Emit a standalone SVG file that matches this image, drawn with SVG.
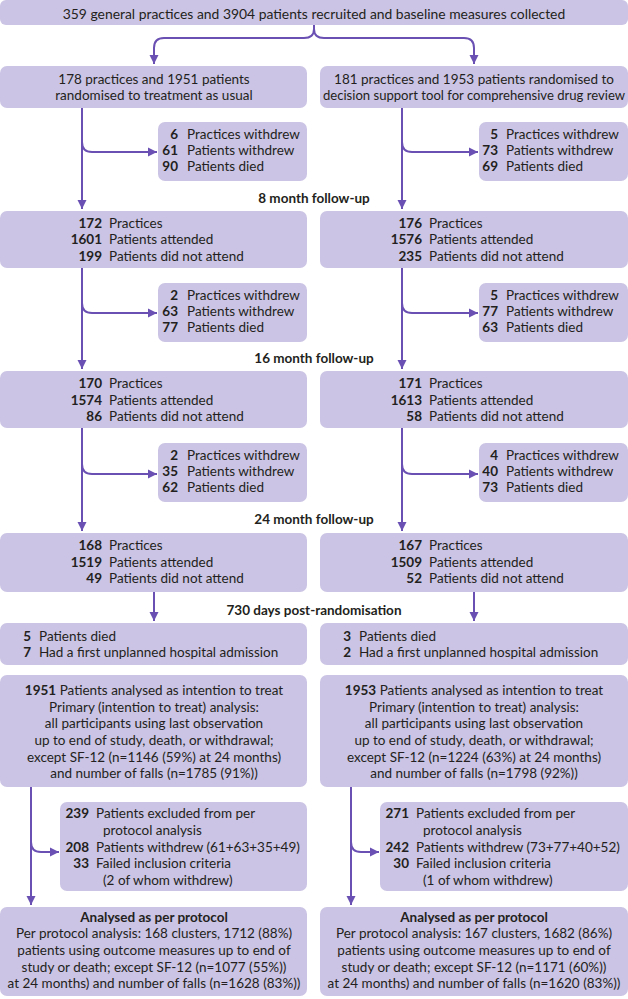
<svg xmlns="http://www.w3.org/2000/svg" width="628" height="999" viewBox="0 0 628 999">
<style>
.b{fill:#cbc4e4}
text{font-family:Lato,"Open Sans","Liberation Sans",sans-serif;font-size:13.5px;fill:#231f20;dominant-baseline:central}
.n{font-weight:700;text-anchor:end}
.c{text-anchor:middle}
.h{font-weight:700;text-anchor:middle}
.ln{stroke:#6a50b2;stroke-width:2;fill:none}
</style>
<defs>
<marker id="ah" markerUnits="userSpaceOnUse" markerWidth="10" markerHeight="10" refX="9" refY="5" orient="auto">
<path d="M0,0.5 L9,5 L0,9.5 Z" fill="#6a50b2"/>
</marker>
</defs>

<g id="connectors">
<path class="ln" d="M314,25 V29 Q314,38 304,38 H164 Q154,38 154,48 V64" marker-end="url(#ah)"/>
<path class="ln" d="M314,29 Q314,38 324,38 H464 Q474,38 474,48 V64" marker-end="url(#ah)"/>
<path class="ln" d="M82,108 V209" marker-end="url(#ah)"/>
<path class="ln" d="M82,142 Q82,152 92,152 H157" marker-end="url(#ah)"/>
<path class="ln" d="M402,108 V209" marker-end="url(#ah)"/>
<path class="ln" d="M402,142 Q402,152 412,152 H478" marker-end="url(#ah)"/>
<path class="ln" d="M82,268 V369" marker-end="url(#ah)"/>
<path class="ln" d="M82,303 Q82,313 92,313 H157" marker-end="url(#ah)"/>
<path class="ln" d="M402,268 V369" marker-end="url(#ah)"/>
<path class="ln" d="M402,303 Q402,313 412,313 H478" marker-end="url(#ah)"/>
<path class="ln" d="M82,428 V531" marker-end="url(#ah)"/>
<path class="ln" d="M82,464 Q82,474 92,474 H157" marker-end="url(#ah)"/>
<path class="ln" d="M402,428 V531" marker-end="url(#ah)"/>
<path class="ln" d="M402,464 Q402,474 412,474 H478" marker-end="url(#ah)"/>
<path class="ln" d="M154,592 V621" marker-end="url(#ah)"/>
<path class="ln" d="M474,592 V621" marker-end="url(#ah)"/>
<path class="ln" d="M31,787 V905" marker-end="url(#ah)"/>
<path class="ln" d="M31,842 Q31,852 41,852 H59" marker-end="url(#ah)"/>
<path class="ln" d="M351,787 V905" marker-end="url(#ah)"/>
<path class="ln" d="M351,842 Q351,852 361,852 H379" marker-end="url(#ah)"/>
</g>

<g id="recruited">
<rect class="b" x="0" y="0" width="628" height="25" rx="6"/>
<text class="c" x="314" y="13" style="font-size:13.9px">359 general practices and 3904 patients recruited and baseline measures collected</text>
</g>

<g id="usual">
<rect class="b" x="0" y="66" width="307" height="42" rx="7"/>
<text class="c" x="154" y="79">178 practices and 1951 patients</text>
<text class="c" x="154" y="95">randomised to treatment as usual</text>
</g>
<g id="tool">
<rect class="b" x="320" y="66" width="308" height="42" rx="7"/>
<text class="c" x="474" y="79">181 practices and 1953 patients randomised to</text>
<text class="c" x="474" y="95" style="font-size:13.1px">decision support tool for comprehensive drug review</text>
</g>

<g id="withdraw1L">
<rect class="b" x="158" y="122" width="149" height="59" rx="7"/>
<text class="n" x="178" y="134">6</text><text x="187" y="134">Practices withdrew</text>
<text class="n" x="178" y="150">61</text><text x="187" y="150">Patients withdrew</text>
<text class="n" x="178" y="166">90</text><text x="187" y="166">Patients died</text>
</g>
<g id="withdraw1R">
<rect class="b" x="479" y="122" width="149" height="59" rx="7"/>
<text class="n" x="498" y="134">5</text><text x="506" y="134">Practices withdrew</text>
<text class="n" x="498" y="150">73</text><text x="506" y="150">Patients withdrew</text>
<text class="n" x="498" y="166">69</text><text x="506" y="166">Patients died</text>
</g>

<g id="label8"><text class="h" x="314" y="198">8 month follow-up</text></g>

<g id="fu8L">
<rect class="b" x="0" y="211" width="307" height="57" rx="7"/>
<text class="n" x="102" y="223">172</text><text x="109" y="223">Practices</text>
<text class="n" x="102" y="239">1601</text><text x="109" y="239">Patients attended</text>
<text class="n" x="102" y="256">199</text><text x="109" y="256">Patients did not attend</text>
</g>
<g id="fu8R">
<rect class="b" x="320" y="211" width="308" height="57" rx="7"/>
<text class="n" x="422" y="223">176</text><text x="429" y="223">Practices</text>
<text class="n" x="422" y="239">1576</text><text x="429" y="239">Patients attended</text>
<text class="n" x="422" y="256">235</text><text x="429" y="256">Patients did not attend</text>
</g>

<g id="withdraw2L">
<rect class="b" x="158" y="283" width="149" height="59" rx="7"/>
<text class="n" x="178" y="295">2</text><text x="187" y="295">Practices withdrew</text>
<text class="n" x="178" y="311">63</text><text x="187" y="311">Patients withdrew</text>
<text class="n" x="178" y="327">77</text><text x="187" y="327">Patients died</text>
</g>
<g id="withdraw2R">
<rect class="b" x="479" y="283" width="149" height="59" rx="7"/>
<text class="n" x="498" y="295">5</text><text x="506" y="295">Practices withdrew</text>
<text class="n" x="498" y="311">77</text><text x="506" y="311">Patients withdrew</text>
<text class="n" x="498" y="327">63</text><text x="506" y="327">Patients died</text>
</g>

<g id="label16"><text class="h" x="314" y="358">16 month follow-up</text></g>

<g id="fu16L">
<rect class="b" x="0" y="371" width="307" height="57" rx="7"/>
<text class="n" x="102" y="383">170</text><text x="109" y="383">Practices</text>
<text class="n" x="102" y="400">1574</text><text x="109" y="400">Patients attended</text>
<text class="n" x="102" y="416">86</text><text x="109" y="416">Patients did not attend</text>
</g>
<g id="fu16R">
<rect class="b" x="320" y="371" width="308" height="57" rx="7"/>
<text class="n" x="422" y="383">171</text><text x="429" y="383">Practices</text>
<text class="n" x="422" y="400">1613</text><text x="429" y="400">Patients attended</text>
<text class="n" x="422" y="416">58</text><text x="429" y="416">Patients did not attend</text>
</g>

<g id="withdraw3L">
<rect class="b" x="158" y="443" width="149" height="59" rx="7"/>
<text class="n" x="178" y="455">2</text><text x="187" y="455">Practices withdrew</text>
<text class="n" x="178" y="471">35</text><text x="187" y="471">Patients withdrew</text>
<text class="n" x="178" y="487">62</text><text x="187" y="487">Patients died</text>
</g>
<g id="withdraw3R">
<rect class="b" x="479" y="443" width="149" height="59" rx="7"/>
<text class="n" x="498" y="455">4</text><text x="506" y="455">Practices withdrew</text>
<text class="n" x="498" y="471">40</text><text x="506" y="471">Patients withdrew</text>
<text class="n" x="498" y="487">73</text><text x="506" y="487">Patients died</text>
</g>

<g id="label24"><text class="h" x="314" y="519">24 month follow-up</text></g>

<g id="fu24L">
<rect class="b" x="0" y="533" width="307" height="59" rx="7"/>
<text class="n" x="102" y="545">168</text><text x="109" y="545">Practices</text>
<text class="n" x="102" y="562">1519</text><text x="109" y="562">Patients attended</text>
<text class="n" x="102" y="578">49</text><text x="109" y="578">Patients did not attend</text>
</g>
<g id="fu24R">
<rect class="b" x="320" y="533" width="308" height="59" rx="7"/>
<text class="n" x="422" y="545">167</text><text x="429" y="545">Practices</text>
<text class="n" x="422" y="562">1509</text><text x="429" y="562">Patients attended</text>
<text class="n" x="422" y="578">52</text><text x="429" y="578">Patients did not attend</text>
</g>

<g id="label730"><text class="h" x="314" y="610">730 days post-randomisation</text></g>

<g id="d730L">
<rect class="b" x="0" y="623" width="307" height="42" rx="7"/>
<text class="n" x="31" y="636">5</text><text x="39" y="636">Patients died</text>
<text class="n" x="31" y="652">7</text><text x="39" y="652">Had a first unplanned hospital admission</text>
</g>
<g id="d730R">
<rect class="b" x="320" y="623" width="308" height="42" rx="7"/>
<text class="n" x="351" y="636">3</text><text x="359" y="636">Patients died</text>
<text class="n" x="351" y="652">2</text><text x="359" y="652">Had a first unplanned hospital admission</text>
</g>

<g id="ittL">
<rect class="b" x="0" y="675" width="307" height="112" rx="7"/>
<text class="c" x="154" y="690"><tspan font-weight="700">1951</tspan>  Patients analysed as intention to treat</text>
<text class="c" x="154" y="707">Primary (intention to treat) analysis:</text>
<text class="c" x="154" y="723">all participants using last observation</text>
<text class="c" x="154" y="740">up to end of study, death, or withdrawal;</text>
<text class="c" x="154" y="757">except SF-12 (n=1146 (59%) at 24 months)</text>
<text class="c" x="154" y="773">and number of falls (n=1785 (91%))</text>
</g>
<g id="ittR">
<rect class="b" x="320" y="675" width="308" height="112" rx="7"/>
<text class="c" x="474" y="690"><tspan font-weight="700">1953</tspan>  Patients analysed as intention to treat</text>
<text class="c" x="474" y="707">Primary (intention to treat) analysis:</text>
<text class="c" x="474" y="723">all participants using last observation</text>
<text class="c" x="474" y="740">up to end of study, death, or withdrawal;</text>
<text class="c" x="474" y="757">except SF-12 (n=1224 (63%) at 24 months)</text>
<text class="c" x="474" y="773">and number of falls (n=1798 (92%))</text>
</g>

<g id="exclL">
<rect class="b" x="60" y="802" width="247" height="89" rx="7"/>
<text class="n" x="89" y="813">239</text><text x="96" y="813">Patients excluded from per</text>
<text x="103" y="830">protocol analysis</text>
<text class="n" x="89" y="847">208</text><text x="96" y="847">Patients withdrew (61+63+35+49)</text>
<text class="n" x="89" y="863">33</text><text x="96" y="863">Failed inclusion criteria</text>
<text x="103" y="880">(2 of whom withdrew)</text>
</g>
<g id="exclR">
<rect class="b" x="380" y="802" width="248" height="89" rx="7"/>
<text class="n" x="409" y="813">271</text><text x="416" y="813">Patients excluded from per</text>
<text x="423" y="830">protocol analysis</text>
<text class="n" x="409" y="847">242</text><text x="416" y="847">Patients withdrew (73+77+40+52)</text>
<text class="n" x="409" y="863">30</text><text x="416" y="863">Failed inclusion criteria</text>
<text x="423" y="880">(1 of whom withdrew)</text>
</g>

<g id="ppL">
<rect class="b" x="0" y="907" width="307" height="89" rx="7"/>
<text class="h" x="154" y="917">Analysed as per protocol</text>
<text class="c" x="154" y="933">Per protocol analysis: 168 clusters, 1712 (88%)</text>
<text class="c" x="154" y="950">patients using outcome measures up to end of</text>
<text class="c" x="154" y="967">study or death; except SF-12 (n=1077 (55%))</text>
<text class="c" x="154" y="983">at 24 months) and number of falls (n=1628 (83%))</text>
</g>
<g id="ppR">
<rect class="b" x="320" y="907" width="308" height="89" rx="7"/>
<text class="h" x="474" y="917">Analysed as per protocol</text>
<text class="c" x="474" y="933">Per protocol analysis: 167 clusters, 1682 (86%)</text>
<text class="c" x="474" y="950">patients using outcome measures up to end of</text>
<text class="c" x="474" y="967">study or death; except SF-12 (n=1171 (60%))</text>
<text class="c" x="474" y="983">at 24 months) and number of falls (n=1620 (83%))</text>
</g>
</svg>
